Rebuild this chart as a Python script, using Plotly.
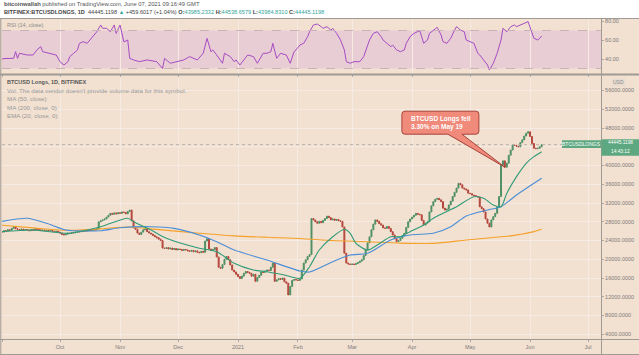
import pandas as pd
import plotly.graph_objects as go

W, H = 639, 355
START = pd.Timestamp("2020-08-31")

# ---------------- data ----------------
closes = [
    25900,
    # Sep
    25800, 26100, 26000, 26300, 26200, 26600, 26950, 26500, 26400, 26300,
    26450, 26200, 26350, 26250, 26100, 26300, 26200, 26500, 26400, 26300,
    26150, 26250, 26100, 26200, 26050, 26150, 26000, 25900, 26000, 25800,
    # Oct
    25600, 25300, 25200, 25350, 25600, 25500, 25700, 25650, 25800, 25900,
    25850, 26000, 25950, 26100, 26050, 26200, 26150, 26300, 26250, 26500,
    28000, 28200, 28400, 28600, 29000, 29400, 29800, 29600, 29900, 29700, 29950,
    # Nov
    29800, 30100, 30000, 29700, 30200, 30500, 28200, 26700, 26400, 25600,
    25300, 25800, 26300, 26500, 25900, 25600, 25400, 25100, 24800, 24600,
    24300, 24000, 22400, 22300, 22500, 22200, 22400, 22100, 22300, 22000,
    # Dec
    22200, 22100, 21900, 22100, 22000, 21800, 21700, 21900, 21600, 21800,
    21500, 21400, 21700, 21500, 23900, 24400, 22200, 21900, 22100, 22500,
    20500, 18300, 18100, 18900, 20000, 20600, 19900, 18800, 17700, 17300, 16800,
    # Jan
    16300, 15900, 16400, 17000, 17400, 17200, 17000, 16400, 16800, 15300,
    16100, 16600, 17300, 17200, 17500, 17700, 17600, 18300, 19200, 15300,
    15600, 15900, 15700, 16000, 15200, 14900, 12400, 14200, 15500, 15700, 15600,
    # Feb
    15500, 15800, 17700, 19200, 19900, 20600, 21000, 28700, 28400, 28000,
    27700, 28100, 27800, 28300, 28700, 29200, 28900, 28400, 28600, 28300,
    28500, 28200, 28100, 26900, 21300, 19200, 19000, 18900,
    # Mar
    19000, 18900, 19100, 19300, 19600, 19900, 20800, 22000, 23500, 24800,
    26300, 27500, 28400, 28100, 27600, 27300, 26700, 26600, 27000, 26600,
    25900, 25200, 24400, 23750, 24000, 24500, 25000, 25550, 26800, 28000, 28600,
    # Apr
    29000, 29400, 29800, 29600, 29500, 28300, 27300, 27700, 28000, 30100,
    31400, 32300, 32800, 33000, 32700, 32300, 30900, 30500, 30700, 31600,
    32400, 33400, 34300, 35200, 36200, 35900, 35200, 35000, 34800, 34100,
    # May
    34000, 33700, 33600, 33400, 33300, 31200, 30800, 30100, 28600, 27700,
    26900, 28400, 29100, 29800, 31200, 33400, 40100, 41000, 39650, 40500,
    42200, 43300, 44400, 44300, 44100, 44000, 44900, 45500, 46300, 46900, 47200,
    # Jun
    46200, 44700, 43700, 43600, 43700, 43985.2332, 44445.1198,
]
first_open = 25950

ma200_days = [0, 17, 34, 52, 66, 78, 103, 121, 138, 155, 172, 190, 207, 224,
              241, 259, 264, 270, 276, 280]
ma200_vals = [27300, 26700, 26200, 26500, 26900, 26500, 25550, 25000, 24700,
              24450, 24000, 23750, 23450, 23400, 24120, 24800, 25000, 25400,
              25900, 26400]

ma50_days = [0, 14, 24, 34, 52, 62, 78, 90, 103, 112, 121, 138, 155, 160, 172,
             181, 190, 202, 212, 224, 233, 241, 252, 259, 267, 280]
ma50_vals = [28020, 28750, 27680, 26250, 26100, 26740, 26950, 26600, 25180,
             23750, 21980, 19850, 17500, 17300, 19490, 20900, 21280, 24120,
             25180, 25550, 26950, 29240, 30520, 31220, 33720, 37280]

ema20_days = [0, 17, 35, 52, 66, 69, 78, 86, 103, 112, 121, 131, 138, 147, 155,
              160, 165, 172, 178, 181, 184, 190, 195, 202, 207, 212, 219, 224,
              229, 236, 245, 250, 255, 259, 262, 267, 272, 276, 280]
ema20_vals = [25890, 26250, 25540, 26950, 28750, 28020, 26250, 24480, 22350,
              21620, 19150, 17720, 17360, 16650, 15950, 18420, 21980, 24820,
              26400, 25550, 23400, 21980, 23050, 24820, 24820, 25900, 27320,
              28750, 29810, 31220, 33360, 33010, 31580, 31220, 34080, 37630,
              40480, 41900, 42960]

rsi_days = [0, 2, 7, 8, 9, 10, 14, 17, 19, 21, 22, 26, 29, 31, 33, 35, 36, 38,
            40, 41, 43, 45, 47, 48, 50, 52, 53, 55, 57, 59, 60, 62, 64, 66, 67,
            69, 72, 76, 78, 81, 84, 85, 88, 91, 95, 98, 102, 105, 107, 109, 110,
            112, 115, 116, 119, 121, 122, 124, 126, 128, 131, 133, 136, 138,
            140, 141, 143, 145, 148, 150, 152, 153, 155, 157, 159, 160, 162,
            164, 166, 167, 169, 171, 172, 174, 176, 178, 179, 181, 183, 186,
            188, 190, 191, 193, 195, 197, 198, 200, 202, 203, 205, 207, 209,
            210, 212, 214, 216, 217, 219, 221, 222, 224, 226, 228, 229, 231,
            233, 235, 236, 238, 240, 241, 243, 245, 247, 248, 250, 252, 253,
            255, 257, 259, 260, 262, 264, 266, 267, 269, 271, 273, 276, 278,
            279, 280]
rsi_vals = [39, 40.5, 40.7, 47.7, 40.7, 46, 44.2, 44.2, 49.5, 53, 47.7, 46,
            44.2, 37, 33.7, 37, 42.5, 46, 49.5, 56.5, 58.2, 56.5, 61.8, 63.5,
            68.7, 75.8, 72.3, 72.3, 68.7, 75.8, 67, 75.8, 58, 60, 40.7, 39,
            37.2, 39, 38, 37.2, 30, 40.7, 35.5, 37.2, 39, 42.5, 39, 46, 61.7,
            47.7, 49.5, 44.2, 35.5, 46, 42.5, 37.2, 39, 33.7, 39, 44.2, 42.5,
            35.5, 46, 46, 47.7, 56.5, 40.7, 46, 44.2, 35.5, 47.7, 49.5, 54.7,
            56.5, 63.5, 68.7, 75.8, 76.8, 74, 72.3, 74, 70.5, 72.3, 67, 60,
            49.5, 37.2, 35.5, 37.2, 37.2, 42.5, 53, 60, 67, 68.7, 63.5, 60,
            56.5, 53, 54.7, 49.5, 47.7, 49.5, 56.5, 63.5, 67, 68.7, 69.8, 56.5,
            60, 67, 70.5, 73.3, 65.3, 58.2, 56.5, 61.8, 70.5, 74, 70.5, 68.7,
            60, 58.2, 56.5, 46, 44.2, 39, 33.7, 28.4, 35.5, 46, 60, 72.3, 68.7,
            74, 75.8, 74, 75.8, 77.5, 79.3, 61.8, 60, 61.8, 64.2]

month_ticks = ["2020-09-01", "2020-10-01", "2020-11-01", "2020-12-01",
               "2021-01-01", "2021-02-01", "2021-03-01", "2021-04-01",
               "2021-05-01", "2021-06-01", "2021-07-01"]
month_labels = ["Sep", "Oct", "Nov", "Dec", "2021", "Feb", "Mar", "Apr",
                "May", "Jun", "Jul"]
price_ticks = [4000, 8000, 12000, 16000, 20000, 24000, 28000, 32000, 36000,
               40000, 44000, 48000, 52000, 56000]
rsi_ticks = [40, 60, 80]
last_close = 44445.1198
callout_date = "2021-05-19"
callout_text = "BTCUSD Longs fell<br>3.30% on May 19"

# ---------------- styling ----------------
BG = "#f2e0d0"
BAND = "#e9cdd5"
GREEN_C = "#4e9064"
RED_C = "#b4463c"
EMA_C = "#2f9b78"
MA50_C = "#4a8fd8"
MA200_C = "#f5a12a"
RSI_C = "#a64cc4"
FRAME = "#a09a94"
GRID = "#f5ebe4"
TXT = "#7d7d7d"
LASTG = "#5da880"
FONT = "Liberation Sans"


def px(x):
    return x / W


def py(y):
    return 1 - y / H


dates = pd.date_range(START, periods=len(closes), freq="D")
opens = [first_open] + closes[:-1]
highs = [max(o, c) for o, c in zip(opens, closes)]
lows = [min(o, c) for o, c in zip(opens, closes)]


def to_dates(days):
    return [START + pd.Timedelta(days=int(d)) for d in days]


fig = go.Figure()
fig.add_trace(go.Candlestick(
    x=dates, open=opens, high=highs, low=lows, close=closes,
    increasing=dict(line=dict(color=GREEN_C, width=1), fillcolor=GREEN_C),
    decreasing=dict(line=dict(color=RED_C, width=1), fillcolor=RED_C),
    whiskerwidth=0, showlegend=False, hoverinfo="skip",
    xaxis="x", yaxis="y"))
for dd, vv, col in [(ma200_days, ma200_vals, MA200_C),
                    (ma50_days, ma50_vals, MA50_C),
                    (ema20_days, ema20_vals, EMA_C)]:
    fig.add_trace(go.Scatter(
        x=to_dates(dd), y=vv, mode="lines",
        line=dict(color=col, width=1.1, shape="spline", smoothing=0.7),
        showlegend=False, hoverinfo="skip", xaxis="x", yaxis="y"))
fig.add_trace(go.Scatter(
    x=to_dates(rsi_days), y=rsi_vals, mode="lines",
    line=dict(color=RSI_C, width=1), showlegend=False, hoverinfo="skip",
    xaxis="x2", yaxis="y2"))

x_left = pd.Timestamp("2021-01-01") - pd.Timedelta(days=(238 - 2) / 1.934)
x_right = pd.Timestamp("2021-01-01") + pd.Timedelta(days=(601 - 238) / 1.934)
y_lo = 4000 - (339 - 334.3) / 18.75 * 4000
y_hi = 4000 + (334.3 - 75) / 18.75 * 4000
r_lo = 60 + (40 - 74) * 20 / 19
r_hi = 60 + (40 - 19) * 20 / 19

tickfont = dict(family=FONT, size=5.5, color=TXT)
xcommon = dict(
    domain=[px(2), px(601)], tickvals=month_ticks, ticktext=month_labels,
    showgrid=True, gridcolor=GRID, gridwidth=1, zeroline=False,
    showline=False, tickfont=tickfont, ticks="outside", ticklen=2,
    tickcolor="#b0aaa4", rangeslider=dict(visible=False), fixedrange=True)
fig.update_layout(
    width=W, height=H, margin=dict(l=0, r=0, t=0, b=0),
    paper_bgcolor=BG, plot_bgcolor=BG, showlegend=False,
    font=dict(family=FONT, color=TXT),
    xaxis=dict(anchor="y", range=[x_left, x_right], **xcommon),
    xaxis2=dict(anchor="y2", matches="x", showticklabels=False, **xcommon),
    yaxis=dict(domain=[py(339), py(75)], range=[y_lo, y_hi], side="right",
               anchor="x", tickvals=price_ticks,
               ticktext=[f"{v}.0000" for v in price_ticks],
               showgrid=True, gridcolor=GRID, zeroline=False, showline=False,
               tickfont=tickfont, ticks="outside", ticklen=2,
               tickcolor="#b0aaa4", fixedrange=True),
    yaxis2=dict(domain=[py(74), py(19)], range=[r_lo, r_hi], side="right",
                anchor="x2", tickvals=rsi_ticks,
                ticktext=[f"{v}.00" for v in rsi_ticks],
                showgrid=False, zeroline=False, showline=False,
                tickfont=tickfont, ticks="outside", ticklen=2,
                tickcolor="#b0aaa4", fixedrange=True),
)

shapes = []
# header white area
shapes.append(dict(type="rect", xref="paper", yref="paper", x0=0, x1=1,
                   y0=py(18), y1=1, fillcolor="white", line=dict(width=0),
                   layer="below"))
# RSI band
shapes.append(dict(type="rect", xref="x2 domain", yref="y2", x0=0, x1=1,
                   y0=30, y1=70, fillcolor=BAND, line=dict(width=0),
                   layer="below"))
for lv in (30, 70):
    shapes.append(dict(type="line", xref="x2 domain", yref="y2", x0=0, x1=1,
                       y0=lv, y1=lv, line=dict(color="#c9b3b8", width=1,
                                                dash="dash")))
# last price dotted line
shapes.append(dict(type="line", xref="x domain", yref="y", x0=0, x1=1,
                   y0=last_close, y1=last_close,
                   line=dict(color="#b8aea6", width=1, dash="dot")))
# frame lines
for yy, ww in [(18.5, 1), (74.5, 2), (339.5, 1), (354.5, 1)]:
    shapes.append(dict(type="line", xref="paper", yref="paper", x0=0, x1=1,
                       y0=py(yy), y1=py(yy), line=dict(color=FRAME, width=ww)))
for xx in (0.8, 601.5):
    shapes.append(dict(type="line", xref="paper", yref="paper", x0=px(xx),
                       x1=px(xx), y0=py(355), y1=py(18.5),
                       line=dict(color=FRAME, width=1)))
# last price labels
shapes.append(dict(type="rect", xref="paper", yref="y", ysizemode="pixel",
                   yanchor=last_close, x0=px(562), x1=px(601), y0=-3.2,
                   y1=4.4, fillcolor=LASTG, line=dict(width=0)))
shapes.append(dict(type="rect", xref="paper", yref="y", ysizemode="pixel",
                   yanchor=last_close, x0=px(601.5), x1=px(639), y0=-11,
                   y1=5.5, fillcolor=LASTG, line=dict(width=0)))
# callout with tail
ci = list(dates).index(pd.Timestamp(callout_date))
tip_y = closes[ci]
shapes.append(dict(
    type="path", xref="x", yref="y", xsizemode="pixel", ysizemode="pixel",
    xanchor=callout_date, yanchor=tip_y,
    path=("M -103,53 Q -103,56 -100,56 L -29,56 Q -26,56 -26,53 "
          "L -26,36 Q -26,33 -29,33 L -43,33 L 0,0 L -57,33 L -100,33 "
          "Q -103,33 -103,36 Z"),
    fillcolor="#f08a7b", line=dict(color="#a8433a", width=1)))
fig.update_layout(shapes=shapes)

ann = []


def text(x, y, s, size=5.8, color=TXT, xanchor="left"):
    ann.append(dict(xref="paper", yref="paper", x=px(x), y=py(y), text=s,
                    showarrow=False, xanchor=xanchor, yanchor="middle",
                    font=dict(family=FONT, size=size, color=color)))


TEAL = "#35a59a"
text(2, 4.5, "<b>bitcoinwallah</b> published on TradingView.com, June 07, 2021 09:16:49 GMT",
     size=5.8, color="#555555")
text(2, 12.5,
     "<b>BITFINEX:BTCUSDLONGS, 1D</b>  44445.1198 "
     f"<span style='color:{TEAL}'>▲</span> +459.6017 (+1.04%) "
     f"<b>O:</b><span style='color:{TEAL}'>43985.2332</span> "
     f"<b>H:</b><span style='color:{TEAL}'>44538.6579</span> "
     f"<b>L:</b><span style='color:{TEAL}'>43984.8310</span> "
     f"<b>C:</b><span style='color:{TEAL}'>44445.1198</span>",
     size=5.6, color="#444444")
text(5, 25, "RSI (14, close)", size=5.5, color="#8a8a8a")
text(5, 82, "<b>BTCUSD Longs, 1D, BITFINEX</b>", size=5.5, color="#555555")
text(5, 90.3, "Vol: The data vendor doesn't provide volume data for this symbol.",
     size=6.2, color="#999999")
text(5, 98.7, "MA (50, close)", size=6.2, color="#999999")
text(5, 107, "MA (200, close, 0)", size=6.2, color="#999999")
text(5, 115.3, "EMA (20, close, 0)", size=6.2, color="#999999")
# USD tag
ann.append(dict(xref="paper", yref="paper", x=px(618), y=py(81.7),
                text="USD", showarrow=False, xanchor="center",
                yanchor="middle", bgcolor="#e9ddd2", borderpad=1,
                font=dict(family=FONT, size=5, color="#888888")))
# last price tags
ann.append(dict(xref="paper", yref="y", x=px(581.5), y=last_close, yshift=0.6,
                text="BTCUSDLONGS", showarrow=False, xanchor="center",
                yanchor="middle", font=dict(family=FONT, size=5, color="white")))
ann.append(dict(xref="paper", yref="y", x=px(620), y=last_close, yshift=2.3,
                text="44445.1198", showarrow=False, xanchor="center",
                yanchor="middle", font=dict(family=FONT, size=4.8, color="white")))
ann.append(dict(xref="paper", yref="y", x=px(620), y=last_close, yshift=-7.2,
                text="14:43:12", showarrow=False, xanchor="center",
                yanchor="middle", font=dict(family=FONT, size=4.8, color="white")))
# callout text
ann.append(dict(xref="x", yref="y", x=callout_date, y=tip_y, xshift=-64,
                yshift=44.5, text="<b>" + callout_text + "</b>",
                showarrow=False, xanchor="center", yanchor="middle",
                align="left",
                font=dict(family=FONT, size=6.5, color="white")))
fig.update_layout(annotations=ann)

fig.write_html(
    "out.html",
    config={"displayModeBar": False},
    post_script="document.body.style.margin='0';"
                "document.body.style.overflow='hidden';")
